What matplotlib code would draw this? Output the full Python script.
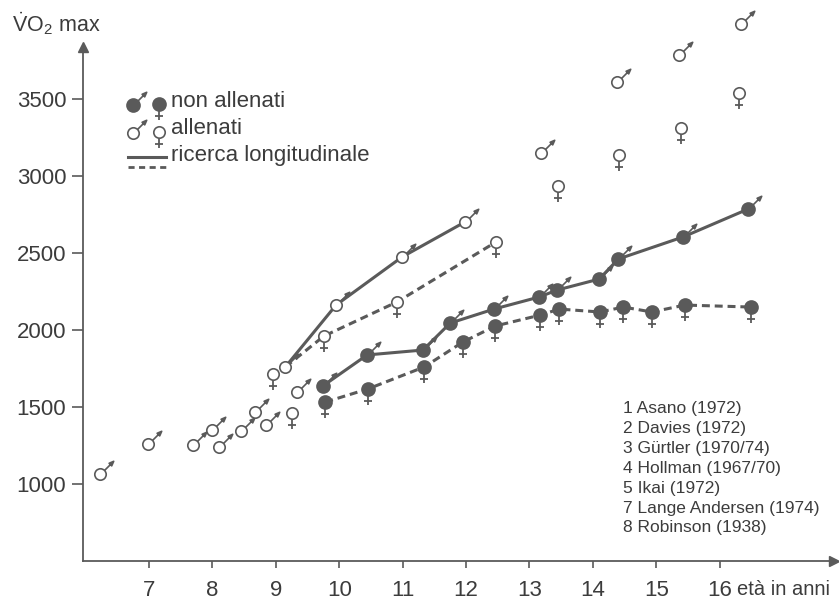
import numpy as np
import matplotlib
matplotlib.use("Agg")
import matplotlib.pyplot as plt
from matplotlib.path import Path

plt.rcParams['font.family'] = ['Liberation Sans', 'DejaVu Sans']
plt.rcParams['mathtext.fontset'] = 'custom'
plt.rcParams['mathtext.rm'] = 'Liberation Sans'
plt.rcParams['mathtext.it'] = 'Liberation Sans:italic'

# allenati, punti isolati (maschi / femmine)
tm_x = [6.23, 6.98, 7.69, 7.99, 8.10, 8.45, 8.67, 8.85, 9.33, 13.18, 14.38, 15.36, 16.34]
tm_y = [1065, 1260, 1253, 1350, 1240, 1344, 1467, 1383, 1597, 3149, 3610, 3786, 3987]
tf_x = [8.96, 9.26, 13.45, 14.41, 15.39, 16.31]
tf_y = [1714, 1461, 2935, 3136, 3312, 3539]

# ricerca longitudinale, allenati
ltm_x = [9.15, 9.95, 10.99, 11.98]
ltm_y = [1760, 2162, 2474, 2701]
ltf_x = [9.15, 9.76, 10.91, 12.47]
ltf_y = [1760, 1961, 2182, 2571]

# ricerca longitudinale, non allenati
lum_x = [9.74, 10.44, 11.32, 11.75, 12.44, 13.15, 13.44, 14.10, 14.40, 15.42, 16.45]
lum_y = [1636, 1838, 1870, 2045, 2136, 2214, 2260, 2331, 2461, 2604, 2786]
luf_x = [9.78, 10.45, 11.34, 11.95, 12.46, 13.17, 13.47, 14.11, 14.48, 14.93, 15.45, 16.50]
luf_y = [1532, 1617, 1760, 1922, 2026, 2097, 2136, 2117, 2149, 2117, 2162, 2149]

x_ticks = [7, 8, 9, 10, 11, 12, 13, 14, 15, 16]
y_ticks = [1000, 1500, 2000, 2500, 3000, 3500]
refs = ["1 Asano (1972)", "2 Davies (1972)", "3 Gürtler (1970/74)",
        "4 Hollman (1967/70)", "5 Ikai (1972)", "7 Lange Andersen (1974)",
        "8 Robinson (1938)"]

GRAY = '#5a5a5a'
TXT = '#3c3c3c'
PX = 0.72  # punti per pixel a 100 dpi

# simboli: freccia (maschio) e croce (femmina), in pixel
male_path = Path([(4.0, 4.0), (10.8, 10.8),
                  (13.2, 13.2), (8.6, 11.2), (11.2, 8.6), (13.2, 13.2)],
                 [Path.MOVETO, Path.LINETO,
                  Path.MOVETO, Path.LINETO, Path.LINETO, Path.CLOSEPOLY])
female_path = Path([(0, -5), (0, -16), (-4.3, -11.5), (4.3, -11.5)],
                   [Path.MOVETO, Path.LINETO, Path.MOVETO, Path.LINETO])
MALE_MS = 2 * 13.2 * PX
FEMALE_MS = 2 * 16 * PX
R_OPEN = 5.7
R_FILL = 6.5

fig = plt.figure(figsize=(8.39, 6.05), dpi=100)
ax = fig.add_axes([83 / 839, 44 / 605, 1 - 83 / 839, 561 / 605])
ax.set_xlim(5.96, 17.88)
ax.set_ylim(500, 4143)


def draw_sex(x, y, sex, filled, transform=None, z=4):
    kw = dict(linestyle='none', clip_on=False)
    if transform is not None:
        kw['transform'] = transform
    if sex == 'm':
        ax.plot(x, y, marker=male_path, ms=MALE_MS, mfc=GRAY, mec=GRAY,
                mew=1.2, zorder=z, **kw)
    else:
        ax.plot(x, y, marker=female_path, ms=FEMALE_MS, mfc=GRAY, mec=GRAY,
                mew=1.3, zorder=z, **kw)
    r = R_FILL if filled else R_OPEN
    ax.plot(x, y, marker='o', ms=2 * r * PX, mfc=GRAY if filled else 'white',
            mec=GRAY, mew=1.2, zorder=z + 1, **kw)


# linee longitudinali
ax.plot(ltm_x, ltm_y, color=GRAY, lw=2.2, zorder=2)
ax.plot(ltf_x, ltf_y, color=GRAY, lw=2.2, ls=(0, (2.6, 1.6)), zorder=2)
ax.plot(lum_x, lum_y, color=GRAY, lw=2.2, zorder=2)
ax.plot(luf_x, luf_y, color=GRAY, lw=2.2, ls=(0, (2.6, 1.6)), zorder=2)

draw_sex(ltm_x, ltm_y, 'm', False)
draw_sex(ltf_x[1:], ltf_y[1:], 'f', False)
draw_sex(lum_x, lum_y, 'm', True)
draw_sex(luf_x, luf_y, 'f', True)
draw_sex(tm_x, tm_y, 'm', False)
draw_sex(tf_x, tf_y, 'f', False)

# assi con frecce
for s in ['top', 'right']:
    ax.spines[s].set_visible(False)
for s in ['left', 'bottom']:
    ax.spines[s].set_color(GRAY)
    ax.spines[s].set_linewidth(1.3)
ax.spines['left'].set_bounds(500, 3838)
ax.spines['bottom'].set_bounds(5.96, 17.8)
ax.plot(5.96, 3838, marker='^', ms=7, color=GRAY, clip_on=False)
ax.plot(17.8, 500, marker='>', ms=7, color=GRAY, clip_on=False)

ax.set_xticks(x_ticks)
ax.set_yticks(y_ticks)
ax.tick_params(axis='both', direction='out', color=GRAY, width=1.2,
               labelcolor=TXT, labelsize=16)
ax.tick_params(axis='x', length=5, pad=9)
ax.tick_params(axis='y', length=8, pad=4)

# etichetta asse x (ridotta per restare dentro la figura)
ax.annotate("età in anni", xy=(16.27, 500), xycoords='data',
            xytext=(0, -14), textcoords='offset points', ha='left', va='top',
            fontsize=14.5, color=TXT, annotation_clip=False)
fig.text(12 / 839, 1 - 24 / 605, r"$\dot{\mathrm{V}}\mathrm{O}_2$ max",
         fontsize=15.5, color=TXT, va='center', ha='left')

# legenda
ft = fig.transFigure
def fx(px):
    return px / 839
def fy(py):
    return 1 - py / 605

draw_sex([fx(133)], [fy(105)], 'm', True, transform=ft)
draw_sex([fx(159)], [fy(104)], 'f', True, transform=ft)
draw_sex([fx(133)], [fy(133)], 'm', False, transform=ft)
draw_sex([fx(159)], [fy(132)], 'f', False, transform=ft)
ax.plot([fx(128), fx(166)], [fy(157), fy(157)], color=GRAY, lw=2.2,
        transform=ft, clip_on=False)
ax.plot([fx(128), fx(166)], [fy(167), fy(167)], color=GRAY, lw=2.0,
        ls=(0, (2.2, 1.6)), transform=ft, clip_on=False)
for label, py in [("non allenati", 101), ("allenati", 129),
                  ("ricerca longitudinale", 156)]:
    fig.text(fx(171), fy(py), label, fontsize=16, color=TXT,
             va='center', ha='left')

# riferimenti bibliografici
for i, r in enumerate(refs):
    fig.text(fx(623), fy(409 + i * 19.8), r, fontsize=12.5, color=TXT,
             va='center', ha='left')

fig.savefig("out.png", dpi=100, facecolor='white')
